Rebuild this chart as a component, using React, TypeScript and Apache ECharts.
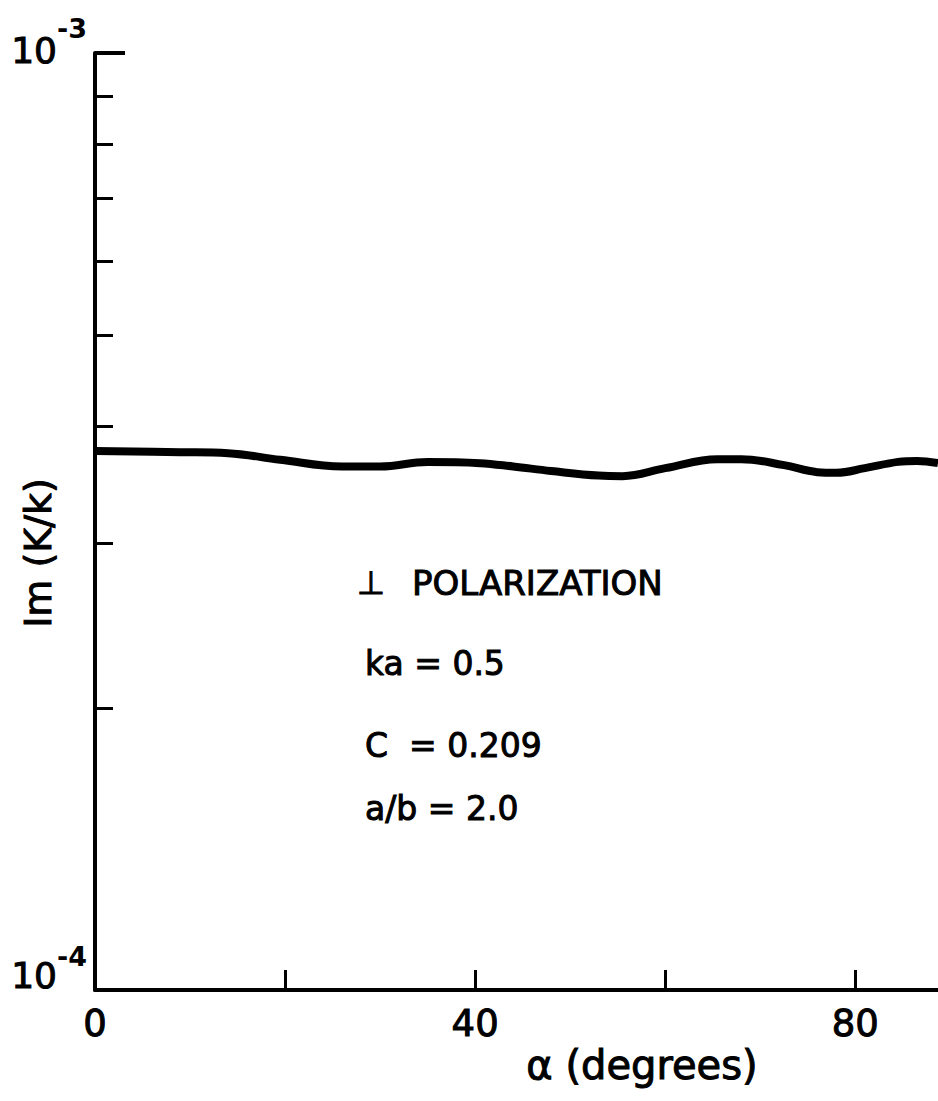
import React, { useEffect, useRef } from "react";
import * as echarts from "echarts";

// Data (alpha in degrees, Im(K/k) values)
const alphaDeg = [0, 9, 14, 19.5, 26, 30, 35, 40.5, 44, 48, 53, 55.5, 60, 65.5, 68, 72.5, 76, 78, 81, 84.5, 86.5, 88.7];
const imKk = [3.76e-4, 3.75e-4, 3.74e-4, 3.68e-4, 3.62e-4, 3.62e-4, 3.66e-4, 3.65e-4, 3.62e-4, 3.58e-4, 3.54e-4, 3.535e-4, 3.605e-4, 3.686e-4, 3.686e-4, 3.632e-4, 3.57e-4, 3.564e-4, 3.605e-4, 3.661e-4, 3.67e-4, 3.65e-4];

const xTickValues = [0, 20, 40, 60, 80];
const xLabelValues = [0, 40, 80];
const yTickValues = [1e-4, 2e-4, 3e-4, 4e-4, 5e-4, 6e-4, 7e-4, 8e-4, 9e-4, 1e-3];
const yMajorTickValues = [1e-3];
const yLabelValues = [1e-4, 1e-3];

const annotationLines = ["ka = 0.5", "C  = 0.209", "a/b = 2.0"];
const polarizationLabel = "POLARIZATION";
const perpSymbol = "\u22A5";
const xTitle = "\u03B1 (degrees)";
const yTitle = "Im (K/k)";

const FONT = "DejaVu Sans";
const TEXT_STROKE = { stroke: "#000", lineWidth: 1 };

export default function App() {
  const ref = useRef<HTMLDivElement>(null);
  useEffect(() => {
    const chart = echarts.init(ref.current!, null, { renderer: "svg" });
    const data = alphaDeg.map((a, i) => [a, imKk[i]]);
    chart.setOption({
      animation: false,
      backgroundColor: "#fff",
      grid: { left: 95, top: 53, right: 0, bottom: 111, containLabel: false },
      xAxis: {
        type: "value",
        min: 0,
        max: 88.7,
        splitLine: { show: false },
        axisLine: { show: true, lineStyle: { color: "#000", width: 4 } },
        axisTick: { show: true, inside: true, length: 20, customValues: xTickValues, lineStyle: { color: "#000", width: 3 } },
        axisLabel: {
          show: true,
          customValues: xLabelValues,
          margin: 15,
          color: "#000",
          fontFamily: FONT,
          fontSize: 37,
          textBorderColor: "#000",
          textBorderWidth: 1,
        },
      },
      yAxis: [
        {
          type: "log",
          logBase: 10,
          min: 1e-4,
          max: 1e-3,
          splitLine: { show: false },
          minorTick: { show: false },
          axisLine: { show: true, lineStyle: { color: "#000", width: 4 } },
          axisTick: { show: true, inside: true, length: 18, customValues: yTickValues, lineStyle: { color: "#000", width: 3 } },
          axisLabel: {
            show: true,
            customValues: yLabelValues,
            margin: 8,
            color: "#000",
            fontFamily: FONT,
            formatter: (v: number) => {
              const e = Math.round(Math.log10(v));
              return e === -3 ? "{b3|10}{s3|-3}" : "{b4|10}{s4|-4}";
            },
            rich: {
              b3: { fontSize: 36, lineHeight: 36, fontFamily: FONT, color: "#000", textBorderColor: "#000", textBorderWidth: 1, padding: [0, 0, 6, 0] },
              s3: { fontSize: 27, lineHeight: 27, fontFamily: FONT, color: "#000", fontWeight: "bold", padding: [0, 0, 50, 0] },
              b4: { fontSize: 36, lineHeight: 36, fontFamily: FONT, color: "#000", textBorderColor: "#000", textBorderWidth: 1, padding: [0, 0, 30, 0] },
              s4: { fontSize: 27, lineHeight: 27, fontFamily: FONT, color: "#000", fontWeight: "bold", padding: [0, 0, 68, 0] },
            },
          },
        },
        {
          type: "log",
          logBase: 10,
          min: 1e-4,
          max: 1e-3,
          position: "left",
          splitLine: { show: false },
          axisLine: { show: false },
          axisTick: { show: true, inside: true, length: 30, customValues: yMajorTickValues, lineStyle: { color: "#000", width: 4 } },
          axisLabel: { show: false },
        },
      ],
      series: [
        {
          type: "line",
          data,
          smooth: 0.4,
          showSymbol: false,
          symbol: "none",
          lineStyle: { color: "#000", width: 8 },
          yAxisIndex: 0,
        },
      ],
      graphic: [
        {
          type: "text",
          x: 371,
          y: 583,
          style: { text: perpSymbol, fontSize: 32, fontFamily: FONT, fill: "#000", align: "center", verticalAlign: "middle", ...TEXT_STROKE },
        },
        {
          type: "text",
          x: 412,
          y: 583,
          style: { text: polarizationLabel, fontSize: 34, fontFamily: FONT, fill: "#000", align: "left", verticalAlign: "middle", ...TEXT_STROKE },
        },
        ...annotationLines.map((t, i) => ({
          type: "text",
          x: 365,
          y: [663, 745, 808][i],
          style: { text: t, fontSize: 33, fontFamily: FONT, fill: "#000", align: "left", verticalAlign: "middle", ...TEXT_STROKE },
        })),
        {
          type: "text",
          x: 642,
          y: 1065,
          style: { text: xTitle, fontSize: 40, fontFamily: FONT, fill: "#000", align: "center", verticalAlign: "middle", ...TEXT_STROKE },
        },
        {
          type: "text",
          x: 38,
          y: 553,
          rotation: Math.PI / 2,
          style: { text: yTitle, fontSize: 38, fontFamily: FONT, fill: "#000", align: "center", verticalAlign: "middle", ...TEXT_STROKE },
        },
      ],
    });
    return () => chart.dispose();
  }, []);
  return (
    <div
      ref={ref}
      style={{ position: "absolute", left: 0, top: 0, width: 938, height: 1101, background: "#fff" }}
    />
  );
}
